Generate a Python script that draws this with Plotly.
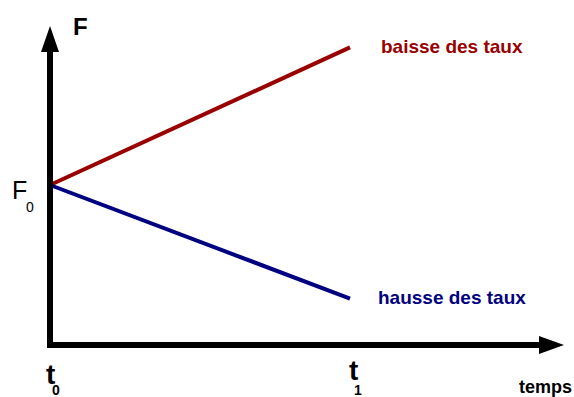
import plotly.graph_objects as go

# ---- data (conceptual units) ----
t_points = [0.0, 1.0]             # t0, t1
baisse_values = [1.0, 1.86]       # F when rates fall
hausse_values = [1.0, 0.29]       # F when rates rise
series_labels = ["baisse des taux", "hausse des taux"]
series_colors = ["#990000", "#000080"]
t_labels = ["t", "t"]
t_subs = ["0", "1"]
f_label = "F"
f0_label = "F"
f0_sub = "0"
time_label = "temps"

W, H = 574, 397
# axis ranges: x unit = 300 px, origin t0 at px 50 ; y unit = 160 px, origin at px 345
XR = [-50 / 300, (W - 50) / 300]
YR = [(345 - H) / 160, 345 / 160]


def px2x(px):
    return XR[0] + px / W * (XR[1] - XR[0])


def px2y(py):
    return YR[1] - py / H * (YR[1] - YR[0])


fig = go.Figure()
for vals, name, col in zip([baisse_values, hausse_values], series_labels, series_colors):
    fig.add_trace(go.Scatter(x=t_points, y=vals, mode="lines", name=name,
                             line=dict(color=col, width=4), hoverinfo="skip"))

shapes = []
# vertical axis
shapes.append(dict(type="line", xref="x", yref="y", x0=px2x(50), x1=px2x(50),
                   y0=px2y(348), y1=px2y(50), line=dict(color="black", width=6)))
shapes.append(dict(type="path", xref="x", yref="y", fillcolor="black", line=dict(width=0),
                   path=f"M {px2x(50)} {px2y(26)} L {px2x(59)} {px2y(52)} L {px2x(41)} {px2y(52)} Z"))
# horizontal axis
shapes.append(dict(type="line", xref="x", yref="y", x0=px2x(47), x1=px2x(541),
                   y0=px2y(345), y1=px2y(345), line=dict(color="black", width=6)))
shapes.append(dict(type="path", xref="x", yref="y", fillcolor="black", line=dict(width=0),
                   path=f"M {px2x(564)} {px2y(345)} L {px2x(539)} {px2y(336)} L {px2x(539)} {px2y(354)} Z"))

FONT = "Liberation Sans, Arial, sans-serif"
ann = []


def add_text(text, px, py, size, color="black", bold=False, xanchor="center"):
    t = f"<b>{text}</b>" if bold else text
    ann.append(dict(text=t, x=px2x(px), y=px2y(py), xref="x", yref="y", showarrow=False,
                    xanchor=xanchor, yanchor="middle",
                    font=dict(family=FONT, size=size, color=color)))


add_text(series_labels[0], 379, 46, 19, series_colors[0], True, "left")
add_text(series_labels[1], 376, 297, 19, series_colors[1], True, "left")
add_text(f_label, 80, 26, 24, bold=True)
add_text(f0_label, 19, 190, 25)
add_text(f0_sub, 30, 207, 14)
add_text(t_labels[0], 50, 374, 28, bold=True)
add_text(t_subs[0], 56, 390, 14, bold=True)
add_text(t_labels[1], 353, 370, 28, bold=True)
add_text(t_subs[1], 358, 390, 14, bold=True)
add_text(time_label, 545, 387, 18, bold=True)

fig.update_layout(
    width=W, height=H, margin=dict(l=0, r=0, t=0, b=0),
    paper_bgcolor="white", plot_bgcolor="white", showlegend=False,
    xaxis=dict(range=XR, visible=False, fixedrange=True),
    yaxis=dict(range=YR, visible=False, fixedrange=True),
    shapes=shapes, annotations=ann,
)
fig.write_html("out.html", config={"displayModeBar": False},
               post_script="document.body.style.margin='0';document.body.style.overflow='hidden';")
